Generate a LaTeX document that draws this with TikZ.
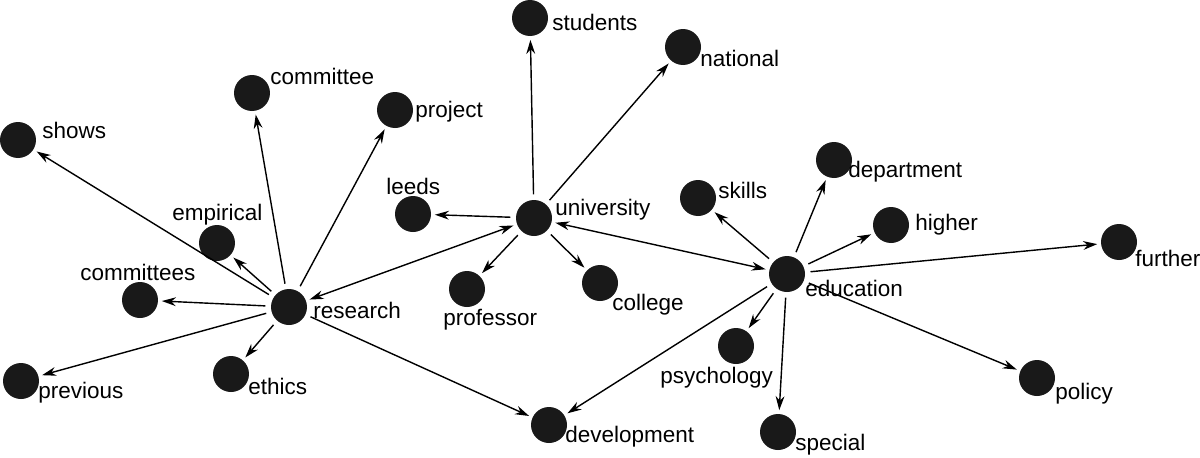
\documentclass[tikz,border=0pt]{standalone}
\usepackage{fontspec}
\setmainfont{Liberation Sans}
\usetikzlibrary{arrows.meta}
\begin{document}
\begin{tikzpicture}[x=0.02cm,y=-0.02cm,
  dot/.style={circle,fill=black!90,minimum size=0.72cm,inner sep=0pt},
  lab/.style={anchor=west,inner sep=0pt,font=\fontsize{12.8pt}{14pt}\selectfont},
  arr/.style={-{Stealth[length=8pt,width=5pt]},thick,shorten >=2pt,shorten <=3pt},
  barr/.style={{Stealth[length=8pt,width=5pt]}-{Stealth[length=8pt,width=5pt]},thick,shorten >=2pt,shorten <=2pt}]
\useasboundingbox (0,0) rectangle (1200,457);
\foreach \n/\x/\y/\lx/\ly in {students/530/18/552/22, national/683/47/700/58, committee/252/93/270/76, project/395/110/415/112, shows/18/140/42/130, leeds/413/214/386/186, university/534/218/555/210, skills/698/198/718/190, department/834/160/848/172, higher/891/225/915/225, further/1119/242/1135/258, empirical/217/243/172/215, committees/140/300/80/272, research/289/307/313/310, professor/467/289/443/320, college/600/283/612/305, education/787/274/805/288, psychology/736/346/660/378, policy/1037/378/1055/394, previous/21/381/38/393, ethics/231/374/248/386, development/549/425/565/437, special/778/432/795/445}{
  \node[dot] (\n) at (\x,\y) {};
  \node[lab] (\n-l) at (\lx,\ly) {\n};
}
\foreach \t in {shows,committee,project,empirical,committees,previous,ethics,development}
  \draw[arr] (research) -- (\t);
\foreach \t in {students,national,leeds,professor,college}
  \draw[arr] (university) -- (\t);
\foreach \t in {skills,department,higher,further,policy,special,psychology,development}
  \draw[arr] (education) -- (\t);
\draw[barr] (research) -- (university);
\draw[barr] (university) -- (education);
\end{tikzpicture}
\end{document}
